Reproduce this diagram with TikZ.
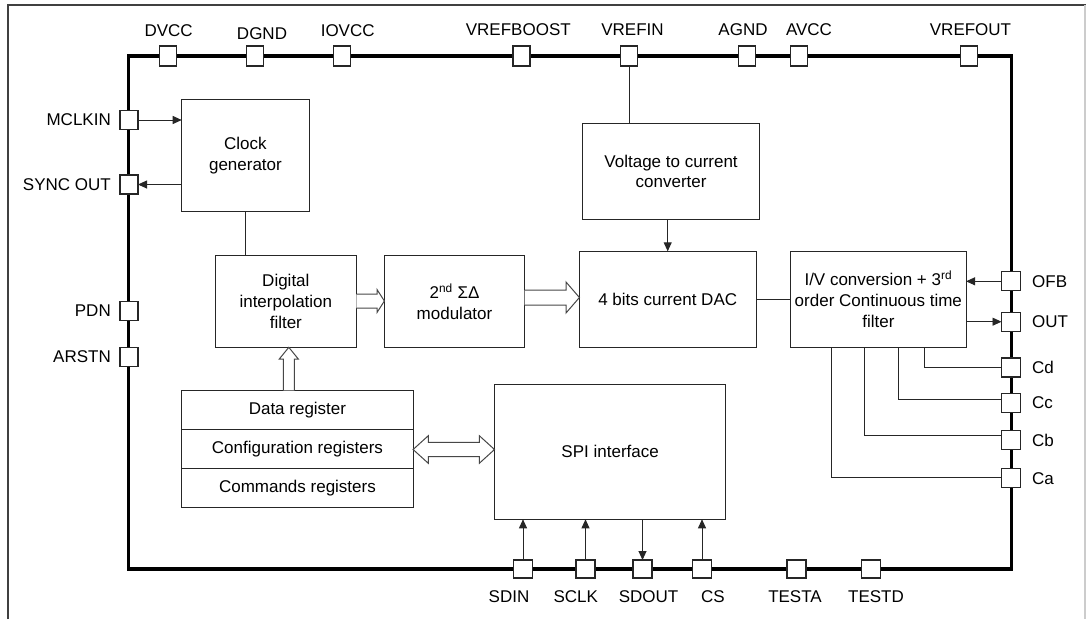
\documentclass[tikz,border=0pt]{standalone}
\usepackage{fontspec}
\setmainfont{Liberation Sans}
\usetikzlibrary{arrows.meta,calc}
\begin{document}
\begin{tikzpicture}[x=1pt,y=-1pt,
  blk/.style={draw=black!85, line width=0.9pt, fill=white, inner sep=0pt, outer sep=0pt, align=center, font=\fontsize{17}{20.7}\selectfont, text=black},
  pinbox/.style={draw=black!85, line width=1.1pt, fill=white, minimum width=17pt, minimum height=19pt, inner sep=0pt, outer sep=0pt},
  lbl/.style={font=\fontsize{17}{20}\selectfont, inner sep=0pt, text=black},
  wire/.style={line width=0.9pt, draw=black!85},
  arr/.style={wire, -{Triangle[length=9pt,width=8pt]}},
  hollow/.style={draw=black!72, line width=1pt, fill=white, line join=miter},
]
\useasboundingbox (0,0) rectangle (1086,619);
\fill[white] (0,0) rectangle (1086,619);
% outer frame
\draw[black!75, line width=2pt] (7.5,619) -- (7.5,5) -- (1086,5);
\draw[black!20, line width=1.5pt] (1085,5) -- (1085,619);
% chip outline
\draw[line width=3.5pt] (128.5,56) rectangle (1011.5,569);

% blocks
\node[blk, minimum width=127.5pt, minimum height=112.4pt] (clk) at (245.45,155.5) {Clock\\generator};
\node[blk, minimum width=176.6pt, minimum height=96pt] (v2c) at (671.1,171.3) {Voltage to current\\converter};
\node[blk, minimum width=140.9pt, minimum height=92pt] (dif) at (285.85,301.3) {Digital\\interpolation\\filter};
\node[blk, minimum width=140.2pt, minimum height=92pt] (mod) at (454.5,301.3) {2\textsuperscript{nd} ΣΔ\\modulator};
\node[blk, minimum width=176.6pt, minimum height=96pt] (dac) at (667.7,299.3) {4 bits current DAC};
\node[blk, minimum width=175.5pt, minimum height=96pt] (filt) at (878.35,299.3) {I/V conversion + 3\textsuperscript{rd}\\order Continuous time\\filter};
\node[blk, minimum width=231.3pt, minimum height=39pt] (rdata) at (297.45,409.8) {Data register};
\node[blk, minimum width=231.3pt, minimum height=39pt] (rconf) at (297.45,448.8) {Configuration registers};
\node[blk, minimum width=231.3pt, minimum height=39pt] (rcmd) at (297.45,487.8) {Commands registers};
\node[blk, minimum width=231.3pt, minimum height=135pt] (spi) at (610.15,451.8) {SPI interface};

% top pins
\node[pinbox, minimum height=20pt] (DVCC) at (168,56) {};
\node[pinbox, minimum height=20pt] (DGND) at (255,56) {};
\node[pinbox, minimum height=20pt] (IOVCC) at (342,56) {};
\node[pinbox, minimum height=20pt] (VREFBOOST) at (521.5,56) {};
\node[pinbox, minimum height=20pt] (VREFIN) at (629,56) {};
\node[pinbox, minimum height=20pt] (AGND) at (747,56) {};
\node[pinbox, minimum height=20pt] (AVCC) at (799,56) {};
\node[pinbox, minimum height=20pt] (VREFOUT) at (969,56) {};
\node[lbl] (lDVCC) at (168.6,31) {DVCC};
\node[lbl] (lDGND) at (262,33.5) {DGND};
\node[lbl] (lIOVCC) at (347.7,31) {IOVCC};
\node[lbl] (lVREFBOOST) at (518.3,30) {VREFBOOST};
\node[lbl] (lVREFIN) at (632.5,30) {VREFIN};
\node[lbl] (lAGND) at (743,30) {AGND};
\node[lbl] (lAVCC) at (809,30) {AVCC};
\node[lbl] (lVREFOUT) at (970.5,30) {VREFOUT};

% left pins
\node[pinbox, minimum width=18pt] (MCLKIN) at (129,120) {};
\node[pinbox, minimum width=18pt] (SYNC) at (129,184.5) {};
\node[pinbox, minimum width=18pt] (PDN) at (129,311) {};
\node[pinbox, minimum width=18pt] (ARSTN) at (129,357) {};
\node[lbl, anchor=east] (lMCLKIN) at (111,120) {MCLKIN};
\node[lbl, anchor=east] (lSYNC) at (111,184.5) {SYNC OUT};
\node[lbl, anchor=east] (lPDN) at (111,311) {PDN};
\node[lbl, anchor=east] (lARSTN) at (111,357) {ARSTN};

% right pins
\node[pinbox, minimum width=19pt] (OFB) at (1011,281.3) {};
\node[pinbox, minimum width=19pt] (OUT) at (1011,321.7) {};
\node[pinbox, minimum width=19pt] (Cd) at (1011,367.5) {};
\node[pinbox, minimum width=19pt] (Cc) at (1011,402.7) {};
\node[pinbox, minimum width=19pt] (Cb) at (1011,440) {};
\node[pinbox, minimum width=19pt] (Ca) at (1011,478.3) {};
\node[lbl, anchor=west] (lOFB) at (1032,281.3) {OFB};
\node[lbl, anchor=west] (lOUT) at (1032,321.7) {OUT};
\node[lbl, anchor=west] (lCd) at (1032,367.5) {Cd};
\node[lbl, anchor=west] (lCc) at (1032,402.7) {Cc};
\node[lbl, anchor=west] (lCb) at (1032,440) {Cb};
\node[lbl, anchor=west] (lCa) at (1032,478.3) {Ca};

% bottom pins
\node[pinbox, minimum width=19pt, minimum height=18pt] (SDIN) at (523,569) {};
\node[pinbox, minimum width=19pt, minimum height=18pt] (SCLK) at (585.5,569) {};
\node[pinbox, minimum width=19pt, minimum height=18pt] (SDOUT) at (642.5,569) {};
\node[pinbox, minimum width=19pt, minimum height=18pt] (CS) at (702,569) {};
\node[pinbox, minimum width=19pt, minimum height=18pt] (TESTA) at (796.5,569) {};
\node[pinbox, minimum width=19pt, minimum height=18pt] (TESTD) at (871,569) {};
\node[lbl] (lSDIN) at (509,597) {SDIN};
\node[lbl] (lSCLK) at (575.7,597) {SCLK};
\node[lbl] (lSDOUT) at (648.6,597) {SDOUT};
\node[lbl] (lCS) at (713,597) {CS};
\node[lbl] (lTESTA) at (795,597) {TESTA};
\node[lbl] (lTESTD) at (876,597) {TESTD};

% connectors
\draw[arr] (MCLKIN.east) -- (MCLKIN.east -| clk.west);
\draw[arr] (clk.west |- SYNC.east) -- (SYNC.east);
\draw[wire] (clk.south) -- (clk.south |- dif.north);
\draw[wire] (VREFIN.south) -- (VREFIN.south |- v2c.north);
\draw[arr] (v2c.south -| dac.north) -- (dac.north);
\draw[wire] (dac.east) -- (dac.east -| filt.west);
\draw[arr] (OFB.west) -- (OFB.west -| filt.east);
\draw[arr] (OUT.west -| filt.east) -- (OUT.west);
\coordinate (xd) at (924,0);
\coordinate (xc) at (898,0);
\coordinate (xb) at (864.3,0);
\coordinate (xa) at (831.8,0);
\draw[wire] (filt.south -| xd) |- (Cd.west);
\draw[wire] (filt.south -| xc) |- ([yshift=3.4pt]Cc.west);
\draw[wire] (filt.south -| xb) |- ([yshift=5pt]Cb.west);
\draw[wire] (filt.south -| xa) |- ([yshift=1pt]Ca.west);
\draw[arr] (SDIN.north) -- (SDIN.north |- spi.south);
\draw[arr] (SCLK.north) -- (SCLK.north |- spi.south);
\draw[arr] (spi.south -| SDOUT.north) -- (SDOUT.north);
\draw[arr] (CS.north) -- (CS.north |- spi.south);

% hollow (bus) arrows
\draw[hollow] (356.3,294) -- (377,294) -- (377,289.5) -- (384.4,301) -- (377,312.5) -- (377,308) -- (356.3,308);
\draw[hollow] (524.6,290) -- (566,290) -- (566,282) -- (579.4,297.5) -- (566,313) -- (566,305) -- (524.6,305);
\draw[hollow] (283.3,390.3) -- (283.3,359) -- (279.3,359) -- (288.8,347.3) -- (298.3,359) -- (294.3,359) -- (294.3,390.3);
\draw[hollow] (413.1,449.5) -- (428.3,435.7) -- (428.3,442.3) -- (479.3,442.3) -- (479.3,435.7) -- (494.5,449.5) -- (479.3,463.3) -- (479.3,456.7) -- (428.3,456.7) -- (428.3,463.3) -- cycle;
\end{tikzpicture}
\end{document}
